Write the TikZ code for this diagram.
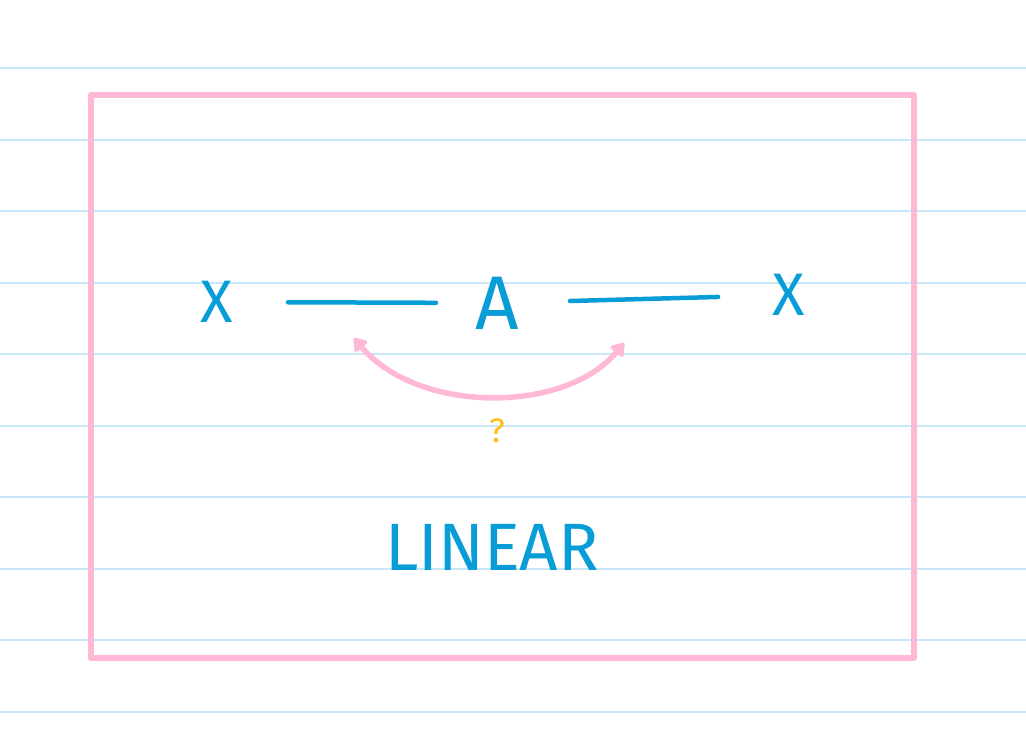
\documentclass[tikz,border=0pt]{standalone}
\usepackage{fontspec}
\setmainfont{Fira Sans}
\usetikzlibrary{arrows.meta, positioning}
\definecolor{inkblue}{RGB}{8,157,214}
\definecolor{framepink}{RGB}{255,184,214}
\definecolor{ruleblue}{RGB}{200,231,250}
\definecolor{qorange}{RGB}{255,190,20}

\begin{document}
\begin{tikzpicture}[
      x=1pt, y=-1pt, >={Triangle[length=14pt,width=18pt,round]},
      letter/.style={text=inkblue, inner sep=0pt, text depth=0pt},
      stroke/.style={draw=inkblue, line width=4.5pt, line cap=round},
      ]
      \useasboundingbox (0,0) rectangle (1026,734);
      % ruled paper
      \foreach \k in {0,...,9}
        \draw[ruleblue, line width=2pt] (0,68+71.5*\k) -- (1026,68+71.5*\k);
      \draw[framepink, line width=6pt, line join=round] (91,95) rectangle (914,658);

      \node[letter, font=\fontsize{60}{60}\selectfont] (xl) at (217,302) {X};
      \node[letter, font=\fontsize{76}{76}\selectfont] (a)  at (497,303) {A};
      \node[letter, font=\fontsize{60}{60}\selectfont] (xr) at (789,295) {X};
      \draw[stroke] (xl.center) -- (a.center) [shorten <=71pt, shorten >=61pt];
      \path[stroke] (a.center) -- (xr.center) [shorten <=73pt, shorten >=71pt];

      \coordinate (al) at (354,338);
      \coordinate (ar) at (624,343);
      \draw[framepink, line width=5.5pt, <->] (al) .. controls (418,414) and (565,414) .. (ar);
      \node[text=qorange, font=\fontsize{34}{34}\selectfont, below=86pt of a] (q) {?};

      \node[letter, font=\fontsize{67}{67}\selectfont] (linear) at (492,547) {LINEAR};
    \end{tikzpicture}
\end{document}
